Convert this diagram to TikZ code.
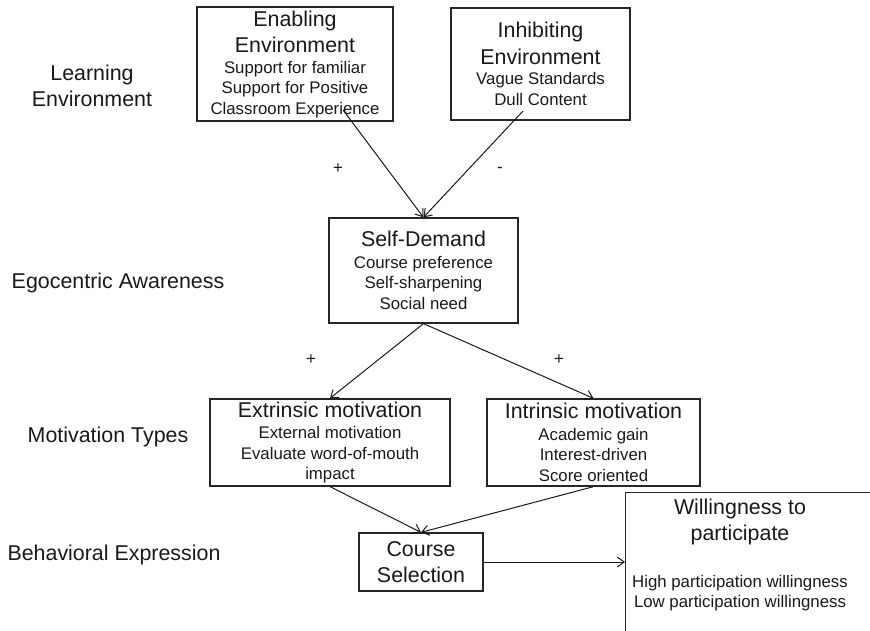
\documentclass[tikz,border=0pt]{standalone}
\usepackage{fontspec}
\setmainfont{Liberation Sans}
\usetikzlibrary{arrows.meta}
\newcommand\titf{\fontsize{21.4}{26.5}\selectfont}
\newcommand\subf{\fontsize{16.8}{20.5}\selectfont}
\begin{document}
\begin{tikzpicture}[x=1pt,y=-1pt,
 box/.style={draw=black!85, line width=1.3pt, inner sep=0pt, align=center, font=\subf, text=black!90},
 conn/.style={draw=black!90, line width=1pt, -{Straight Barb[length=7pt,width=10pt]}},
 lab/.style={font=\titf, align=center, text=black!90},
 sign/.style={font=\subf, text=black!90}]
\useasboundingbox (0,0) rectangle (870,631);
\clip (0,0) rectangle (870,631);
% left labels
\node[lab] (l1) at (92,86) {Learning\\Environment};
\node[lab] (l2) at (118,283) {Egocentric Awareness};
\node[lab] (l3) at (108,437) {Motivation Types};
\node[lab] (l4) at (114,555) {Behavioral Expression};
% boxes
\node[box, minimum width=196pt, minimum height=114pt] (enab) at (295,64)
  {\titf Enabling\\[6pt]\titf Environment\\\subf Support for familiar\\\subf Support for Positive\\\subf Classroom Experience};
\node[box, minimum width=179pt, minimum height=112pt] (inhib) at (540.5,64)
  {\titf Inhibiting\\[6pt]\titf Environment\\\subf Vague Standards\\\subf Dull Content};
\node[box, minimum width=189pt, minimum height=105pt] (sd) at (423.5,270.5)
  {\titf Self-Demand\\[1pt]\subf Course preference\\\subf Self-sharpening\\\subf Social need};
\node[box, minimum width=240pt, minimum height=87pt] (ext) at (330,442.5)
  {\titf Extrinsic motivation\\[1pt]\subf External motivation\\\subf Evaluate word-of-mouth\\\subf impact};
\node[box, minimum width=213pt, minimum height=87pt] (int) at (593.5,442.5)
  {\titf Intrinsic motivation\\[1pt]\subf Academic gain\\\subf Interest-driven\\\subf Score oriented};
\node[box, font=\titf, minimum width=124pt, minimum height=58pt] (cs) at (421,562)
  {Course\\Selection};
\node[box, minimum width=290pt, minimum height=180pt, anchor=north west] (will) at (625,492) {};
\node[align=center, font=\subf, text=black!90] (willtxt) at (740,555)
  {\titf Willingness to\\[6pt]\titf participate\\[26pt]\subf High participation willingness\\\subf Low participation willingness};
% connector start points
\coordinate (enabout) at (343,110);
\coordinate (inhibout) at (523,111);
\draw[conn] (enabout) -- (sd.north);
\draw[conn] (inhibout) -- (sd.north);
\draw[conn] (sd.south) -- (ext.north);
\draw[conn] (sd.south) -- (int.north);
\draw[conn] (ext.south) -- (cs.north);
\draw[conn] (int.south) -- (cs.north);
\draw[conn] (cs.east) -- (cs.east -| will.west);
% signs
\node[sign] (s1) at (338,169) {+};
\node[sign] (s2) at (500,170) {-};
\node[sign] (s3) at (311,360) {+};
\node[sign] (s4) at (559,360) {+};
\end{tikzpicture}
\end{document}
